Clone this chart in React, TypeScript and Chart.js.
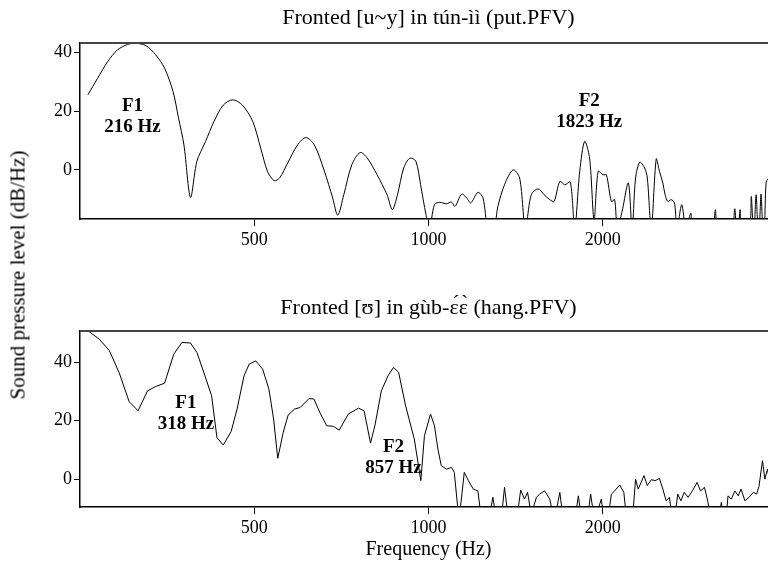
import React, { useEffect, useRef } from "react";
import { Chart, registerables } from "chart.js";

Chart.register(...registerables);

const FONT = "'Liberation Serif', 'Times New Roman', serif";

// shared frequency axis (log scale, Hz)
const xTicks = [500, 1000, 2000];
const xMin = 250;
const xMax = 4000;

// ---------- upper panel ----------
const upperTitle = "Fronted [u~y] in tún-ìì (put.PFV)";
const upperYTicks = [0, 20, 40];
const upperYMin = -16.8;
const upperYMax = 43.3;
const upperFreq = [
  258, 268, 279, 290, 302, 312, 325, 338, 350, 362, 370, 378, 388, 398, 412, 426, 442, 459, 477, 497,
  513, 527, 541, 553, 571, 594, 614, 635, 661, 683, 697, 714, 737, 762, 784, 815, 848, 866, 884, 906,
  929, 951, 969, 990, 1004, 1024, 1045, 1074, 1096, 1111, 1141, 1164, 1183, 1217, 1242, 1267, 1297, 1318, 1353, 1400,
  1437, 1470, 1505, 1546, 1584, 1620, 1648, 1686, 1720, 1758, 1789, 1825, 1861, 1898, 1932, 1964, 2002, 2029, 2070, 2097,
  2119, 2160, 2214, 2248, 2279, 2317, 2363, 2388, 2426, 2474, 2506, 2540, 2563, 2591, 2625, 2660, 2688, 2738, 2784, 2839,
  2860, 3000, 3105, 3130, 3155, 3300, 3360, 3382, 3404, 3432, 3454, 3476, 3585, 3611, 3637, 3655, 3681, 3707, 3728, 3754,
  3780, 3805, 3830, 3870, 4000,
];
const upperDb = [
  25.6, 31.2, 36.9, 40.9, 42.8, 43.2, 42.4, 39.2, 34.7, 26.7, 17.6, 8.5, -9.4, 2.9, 9.7, 16.5, 22.1, 23.9, 22.1, 16.5,
  7.4, -0.5, -3.7, -2.8, 2.3, 8.5, 11.0, 8.5, -0.5, -9.6, -15.5, -8.5, 1.7, 5.9, 4.0, -1.7, -8.5, -13.6, -8.5, 0.6,
  4.0, 2.9, -5.1, -15.3, -20, -11.9, -11.1, -11.6, -11.0, -12.5, -8.3, -9.6, -11.3, -7.7, -9.6, -20, -20, -12.5, -5.1, 0,
  -2.8, -20, -8.5, -6.5, -8.5, -10.2, -10.8, -4.0, -5.1, -4.2, -20, -0.5, 9.7, 4.0, -17, -0.5, -1.7, -1.7, -10.8, -10.2,
  -20, -14.2, -4.5, -20, -2.8, 2.6, 0.6, -2.8, -20, 3.7, -0.5, -4.5, -8.5, -10.8, -10.2, -11.3, -20, -11.9, -20, -14.8,
  -22, -25, -19, -13.6, -19, -25, -19, -13.3, -19, -19, -13.6, -19, -19, -9.1, -19, -19, -8.5, -19, -19, -8.3,
  -19, -19, -4.5, -3, -10,
];
const upperNoteFreq = [308, 1895];
const upperNoteDb = [21.7, 23.3];
const upperNoteName = ["F1", "F2"];
const upperNoteHz = ["216 Hz", "1823 Hz"];

// ---------- lower panel ----------
const lowerTitle = "Fronted [\u028A] in gùb-\u025B\u0301\u025B\u0300 (hang.PFV)";
const lowerYTicks = [0, 20, 40];
const lowerYMin = -9.4;
const lowerYMax = 50.6;
const lowerFreq = [
  250, 258, 270, 281, 292, 304, 315, 327, 338, 350, 363, 375, 388, 398, 411, 422, 431, 442, 456, 467,
  480, 490, 503, 517, 530, 540, 549, 561, 572, 587, 600, 622, 634, 649, 667, 685, 701, 727, 757, 774,
  794, 808, 829, 851, 870, 888, 913, 945, 970, 984, 1008, 1024, 1038, 1052, 1074, 1096, 1108, 1129, 1153, 1172,
  1195, 1217, 1235, 1270, 1292, 1310, 1335, 1353, 1375, 1420, 1443, 1465, 1483, 1505, 1536, 1556, 1587, 1620, 1650, 1686,
  1710, 1790, 1815, 1840, 1880, 1906, 1935, 1989, 2010, 2040, 2070, 2097, 2139, 2175, 2200, 2250, 2279, 2303, 2357, 2388,
  2426, 2464, 2506, 2540, 2574, 2607, 2640, 2660, 2695, 2729, 2765, 2809, 2856, 2912, 2951, 2998, 3040, 3080, 3170, 3206,
  3240, 3270, 3292, 3336, 3382, 3428, 3466, 3521, 3578, 3640, 3688, 3723, 3776, 3811, 3851, 3900, 4000,
];
const lowerDb = [
  51.5, 50.7, 47.8, 43.9, 36.5, 26.5, 23.4, 30.2, 31.7, 32.8, 42.7, 46.7, 46.5, 43.3, 35.3, 28.5, 14.3, 11.7, 16.3, 24.0,
  35.3, 39.3, 40.4, 37.6, 30.8, 20.6, 7.2, 16.0, 21.9, 24.0, 24.5, 27.6, 27.4, 22.8, 18.3, 18.1, 16.8, 22.3, 24.3, 23.4,
  12.4, 18.3, 30.2, 35.3, 38.2, 36.5, 25.1, 13.8, -0.4, 14.9, 22.3, 18.3, 10.4, 4.7, 3.5, 4.1, 2.4, -14, 2.4, -0.4,
  -3.3, -3.9, -14, -14, -6.1, -14, -14, -2.7, -14, -14, -3.6, -6.7, -4.4, -12, -6.1, -5.0, -3.9, -6.7, -14, -4.4,
  -14, -14, -5.6, -14, -14, -5.0, -14, -6.7, -14, -14, -5.0, -3.9, -1.9, -4.4, -14, -14, 0.1, -3.3, 1.3, -2.1,
  -0.1, -0.4, 0.3, -3.3, -7.3, -6.1, -14, -14, -5.0, -7.3, -4.4, -6.1, -3.9, -1.0, -3.9, -2.7, -7.8, -14, -14, -7.8,
  -14, -12, -5.6, -6.7, -3.9, -5.6, -3.3, -7.3, -6.1, -4.4, -5.0, -2.4, 6.4, 0.1, 3.5, -2, 2,
];
const lowerNoteFreq = [381, 870];
const lowerNoteDb = [26.0, 10.9];
const lowerNoteName = ["F1", "F2"];
const lowerNoteHz = ["318 Hz", "857 Hz"];

const yAxisTitle = "Sound pressure level (dB/Hz)";
const xAxisTitle = "Frequency (Hz)";

type PanelProps = {
  title: string;
  titleBaseline: number;
  freq: number[];
  db: number[];
  yTicks: number[];
  yMin: number;
  yMax: number;
  noteFreq: number[];
  noteDb: number[];
  noteName: string[];
  noteHz: string[];
  tension: number;
  width: number;
  height: number;
  xAxisHeight: number;
  showXTitle: boolean;
};

function Panel(p: PanelProps) {
  const ref = useRef<HTMLCanvasElement | null>(null);
  useEffect(() => {
    if (!ref.current) return;
    const panelTitle = {
      id: "panelTitle",
      afterDraw(chart: any) {
        const { ctx, chartArea } = chart;
        ctx.save();
        ctx.font = `22px ${FONT}`;
        ctx.fillStyle = "#000";
        ctx.textAlign = "center";
        ctx.textBaseline = "alphabetic";
        ctx.fillText(p.title, (chartArea.left + chartArea.right) / 2, p.titleBaseline);
        ctx.restore();
      },
    };
    const topFrame = {
      id: "topFrame",
      afterDraw(chart: any) {
        const { ctx, chartArea } = chart;
        ctx.save();
        ctx.strokeStyle = "#444";
        ctx.lineWidth = 2;
        ctx.beginPath();
        ctx.moveTo(chartArea.left, chartArea.top);
        ctx.lineTo(chartArea.right, chartArea.top);
        ctx.stroke();
        ctx.restore();
      },
    };
    const notes = {
      id: "formantNotes",
      afterDatasetsDraw(chart: any) {
        const { ctx } = chart;
        const xs = chart.scales.x;
        const ys = chart.scales.y;
        ctx.save();
        ctx.font = `bold 19px ${FONT}`;
        ctx.fillStyle = "#000";
        ctx.textAlign = "center";
        ctx.textBaseline = "middle";
        p.noteFreq.forEach((f, i) => {
          const px = xs.getPixelForValue(f);
          const py = ys.getPixelForValue(p.noteDb[i]);
          ctx.fillText(p.noteName[i], px, py);
          ctx.fillText(p.noteHz[i], px, py + 21);
        });
        ctx.restore();
      },
    };
    const chart = new Chart(ref.current, {
      type: "line",
      data: {
        datasets: [
          {
            data: p.freq.map((f, i) => ({ x: f, y: p.db[i] })),
            borderColor: "#000",
            borderWidth: 1,
            pointRadius: 0,
            tension: p.tension,
            fill: false,
          },
        ],
      },
      options: {
        responsive: false,
        animation: false,
        layout: { padding: { left: 0, right: p.width - 777, top: 43, bottom: 0 } },
        plugins: {
          legend: { display: false },
          tooltip: { enabled: false },
          title: { display: false },
        },
        scales: {
          x: {
            type: "logarithmic",
            min: xMin,
            max: xMax,
            afterBuildTicks: (s: any) => {
              s.ticks = xTicks.map((v) => ({ value: v }));
            },
            afterFit: (s: any) => {
              s.height = p.xAxisHeight;
            },
            ticks: {
              color: "#000",
              font: { family: FONT, size: 18 },
              padding: 3,
              maxRotation: 0,
              autoSkip: false,
              callback: (v: any) => String(v),
            },
            grid: { drawOnChartArea: false, drawTicks: true, tickLength: 7, color: "#000" },
            border: { display: true, color: "#000", width: 1.5 },
            title: {
              display: p.showXTitle,
              text: xAxisTitle,
              color: "#000",
              font: { family: FONT, size: 20 },
              padding: { top: 0, bottom: 0 },
            },
          },
          y: {
            min: p.yMin,
            max: p.yMax,
            afterBuildTicks: (s: any) => {
              s.ticks = p.yTicks.map((v) => ({ value: v }));
            },
            afterFit: (s: any) => {
              s.width = 80;
            },
            ticks: { color: "#000", font: { family: FONT, size: 18 }, padding: 2 },
            grid: { drawOnChartArea: false, drawTicks: true, tickLength: 6, color: "#000" },
            border: { display: true, color: "#000", width: 1.5 },
          },
        },
      },
      plugins: [panelTitle, topFrame, notes],
    } as any);
    return () => chart.destroy();
  }, []);
  return <canvas ref={ref} width={p.width} height={p.height} style={{ display: "block" }} />;
}

export default function App() {
  const W = 790;
  return (
    <div
      style={{
        position: "absolute",
        left: 0,
        top: 0,
        width: 768,
        height: 562,
        overflow: "hidden",
        background: "#fff",
      }}
    >
      <div style={{ position: "absolute", left: 0, top: 0 }}>
        <Panel
          title={upperTitle}
          titleBaseline={24}
          freq={upperFreq}
          db={upperDb}
          yTicks={upperYTicks}
          yMin={upperYMin}
          yMax={upperYMax}
          noteFreq={upperNoteFreq}
          noteDb={upperNoteDb}
          noteName={upperNoteName}
          noteHz={upperNoteHz}
          tension={0.3}
          width={W}
          height={262}
          xAxisHeight={43}
          showXTitle={false}
        />
      </div>
      <div style={{ position: "absolute", left: 0, top: 288 }}>
        <Panel
          title={lowerTitle}
          titleBaseline={26}
          freq={lowerFreq}
          db={lowerDb}
          yTicks={lowerYTicks}
          yMin={lowerYMin}
          yMax={lowerYMax}
          noteFreq={lowerNoteFreq}
          noteDb={lowerNoteDb}
          noteName={lowerNoteName}
          noteHz={lowerNoteHz}
          tension={0}
          width={W}
          height={274}
          xAxisHeight={55}
          showXTitle={true}
        />
      </div>
      <div
        style={{
          position: "absolute",
          left: 18,
          top: 275,
          transform: "translate(-50%, -50%) rotate(-90deg)",
          whiteSpace: "nowrap",
          fontFamily: FONT,
          fontSize: 21,
          color: "#000",
          lineHeight: 1,
        }}
      >
        {yAxisTitle}
      </div>
    </div>
  );
}
